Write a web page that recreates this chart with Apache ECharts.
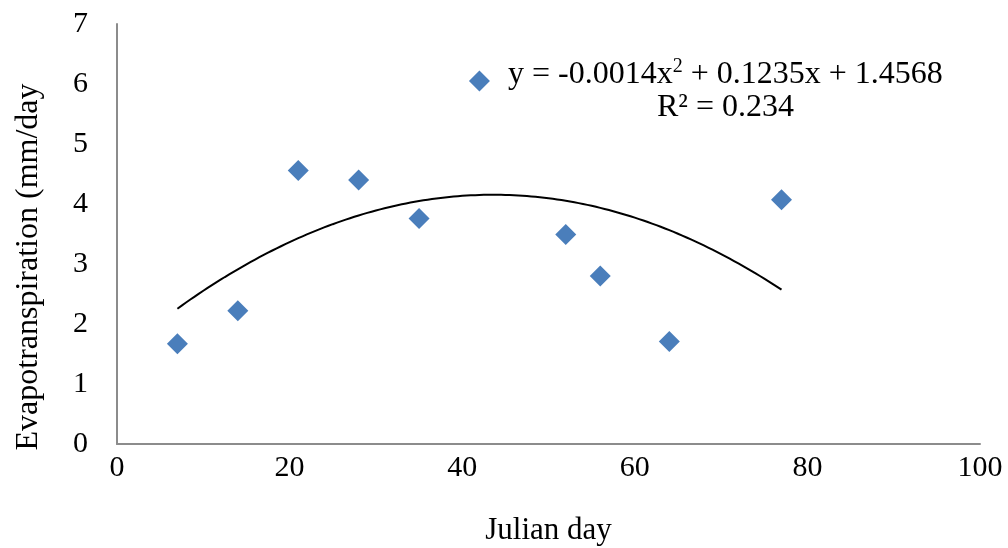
<!DOCTYPE html>
<html><head><meta charset="utf-8">
<script src="https://cdn.jsdelivr.net/npm/echarts@6/dist/echarts.min.js"></script>
<style>html,body{margin:0;padding:0;background:#fff}#c{width:1008px;height:548px}</style>
</head><body><div id="c"></div>
<script>
const julianDay = [7, 14, 21, 28, 35, 42, 52, 56, 64, 77];
const evapo = [1.67, 2.22, 4.56, 4.40, 3.76, 6.05, 3.49, 2.80, 1.71, 4.07];
const xTicks = [0, 20, 40, 60, 80, 100];
const yTicks = [0, 1, 2, 3, 4, 5, 6, 7];
const xTitle = 'Julian day';
const yTitle = 'Evapotranspiration (mm/day';
const eqLine1 = ['y = -0.0014x', '2', ' + 0.1235x + 1.4568'];
const eqLine2 = 'R² = 0.234';

// quadratic least-squares trendline fitted to the data (as the spreadsheet does)
function quadFit(xs, ys) {
  let S = [0,0,0,0,0], T = [0,0,0];
  for (let i = 0; i < xs.length; i++) {
    let p = 1;
    for (let k = 0; k < 5; k++) { S[k] += p; if (k < 3) T[k] += p * ys[i]; p *= xs[i]; }
  }
  const A = [[S[0],S[1],S[2],T[0]],[S[1],S[2],S[3],T[1]],[S[2],S[3],S[4],T[2]]];
  for (let i = 0; i < 3; i++) {
    for (let j = i + 1; j < 3; j++) {
      const f = A[j][i] / A[i][i];
      for (let k = i; k < 4; k++) A[j][k] -= f * A[i][k];
    }
  }
  const c = [0,0,0];
  for (let i = 2; i >= 0; i--) {
    let s = A[i][3];
    for (let k = i + 1; k < 3; k++) s -= A[i][k] * c[k];
    c[i] = s / A[i][i];
  }
  return c;
}
const coef = quadFit(julianDay, evapo);
const xMin = Math.min(...julianDay), xMax = Math.max(...julianDay);
const trend = [];
for (let i = 0; i <= 140; i++) {
  const x = xMin + (xMax - xMin) * i / 140;
  trend.push([x, coef[0] + coef[1] * x + coef[2] * x * x]);
}

const font = '"Liberation Serif", "Times New Roman", serif';
const chart = echarts.init(document.getElementById('c'));
chart.setOption({
  animation: false,
  backgroundColor: '#fff',
  grid: { left: 117, right: 28, top: 24, bottom: 104, containLabel: false, outerBoundsMode: 'none' },
  xAxis: {
    type: 'value', min: xTicks[0], max: xTicks[xTicks.length-1], interval: 20,
    name: xTitle, nameLocation: 'middle', nameGap: 71,
    nameTextStyle: { fontFamily: font, fontSize: 31, color: '#000' },
    axisLine: { show: true, lineStyle: { color: '#8c8c8c', width: 2 } },
    axisTick: { show: false }, splitLine: { show: false },
    axisLabel: { fontFamily: font, fontSize: 30, color: '#000', margin: 9 }
  },
  yAxis: {
    type: 'value', min: yTicks[0], max: yTicks[yTicks.length-1], interval: 1,
    axisLine: { show: true, lineStyle: { color: '#8c8c8c', width: 2 } },
    axisTick: { show: false }, splitLine: { show: false },
    axisLabel: { fontFamily: font, fontSize: 30, color: '#000', margin: 29 }
  },
  series: [
    {
      type: 'line', data: trend, showSymbol: false, smooth: false,
      lineStyle: { color: '#000', width: 2 }, z: 1
    },
    {
      type: 'scatter', data: julianDay.map((x, i) => [x, evapo[i]]),
      symbol: 'diamond', symbolSize: 21,
      itemStyle: { color: '#4a7ebb', opacity: 1 }, z: 2
    }
  ],
  graphic: [
    {
      type: 'text', x: 29, y: 267, rotation: Math.PI / 2,
      style: { text: yTitle, fontFamily: font, fontSize: 32, fill: '#000', align: 'center', verticalAlign: 'middle' }
    },
    {
      type: 'text', left: 508, top: 57,
      style: {
        text: '{a|' + eqLine1[0] + '}{s|' + eqLine1[1] + '}{a|' + eqLine1[2] + '}',
        rich: {
          a: { fontFamily: font, fontSize: 32, fill: '#000', lineHeight: 36 },
          s: { fontFamily: font, fontSize: 20, fill: '#000', verticalAlign: 'top', lineHeight: 28 }
        }
      }
    },
    {
      type: 'text', left: 657, top: 92,
      style: { text: eqLine2, fontFamily: font, fontSize: 32, fill: '#000' }
    }
  ]
});
</script></body></html>
